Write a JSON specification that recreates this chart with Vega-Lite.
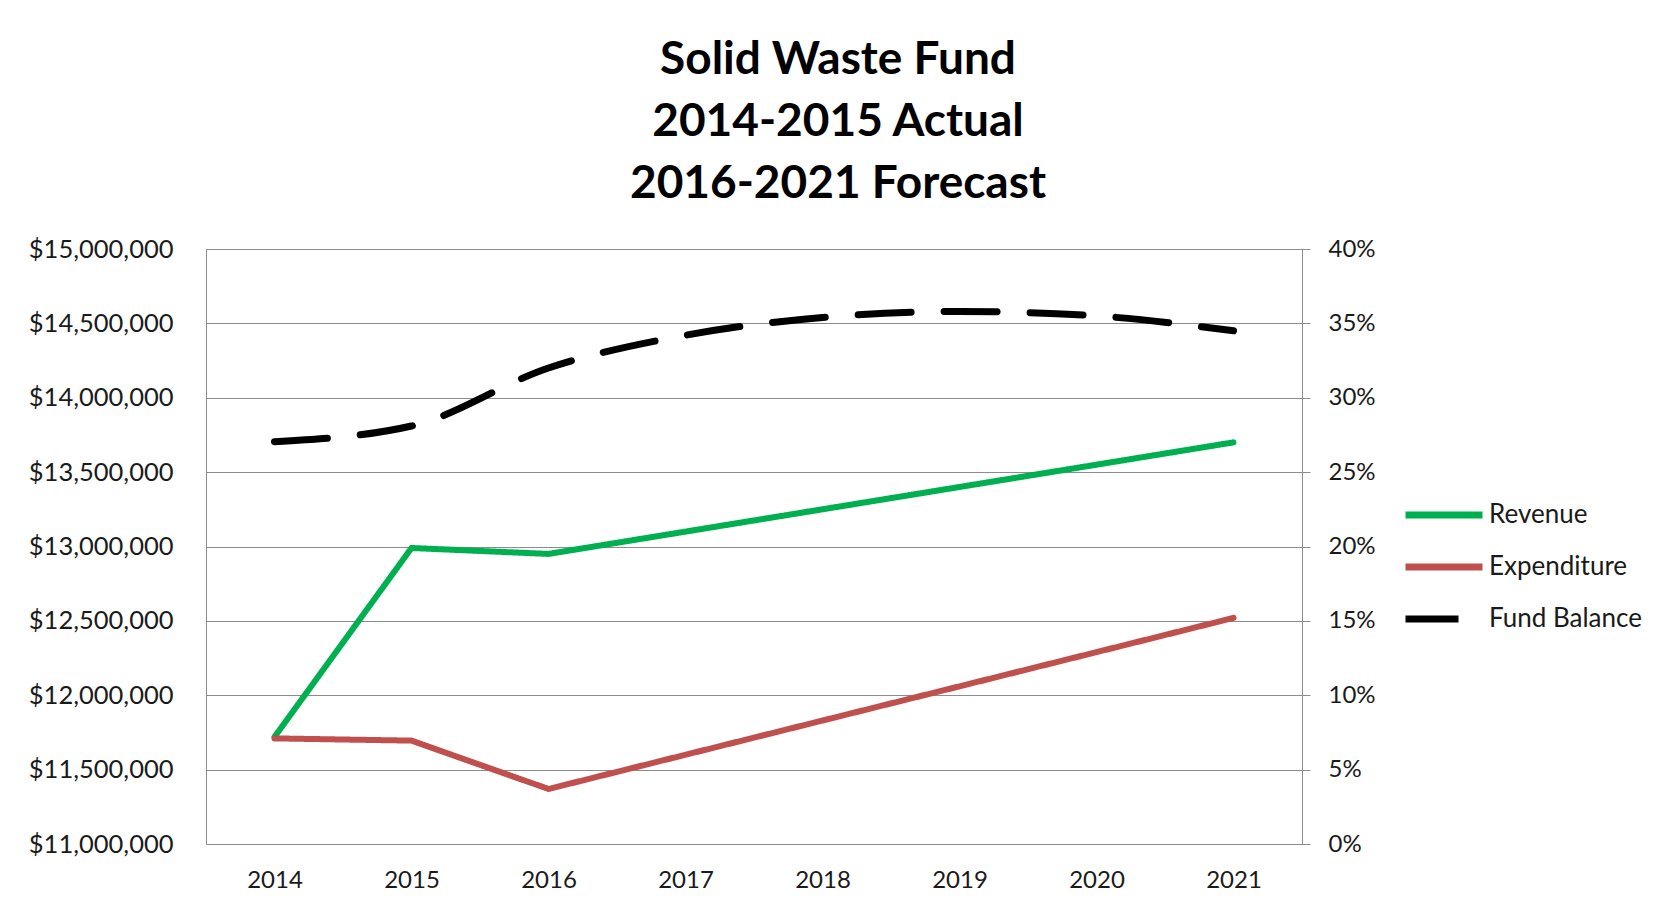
{
  "$schema": "https://vega.github.io/schema/vega-lite/v6.json",
  "width": 1096,
  "height": 595,
  "autosize": {"type": "none"},
  "padding": {"left": 206, "top": 249, "right": 369, "bottom": 67},
  "background": "white",
  "title": {
    "text": ["Solid Waste Fund", "2014-2015 Actual", "2016-2021 Forecast"],
    "font": "Lato",
    "fontSize": 46,
    "fontWeight": "bold",
    "color": "#000000",
    "anchor": "middle",
    "frame": "group",
    "dx": 84,
    "lineHeight": 62,
    "offset": 29
  },
  "config": {
    "view": {"stroke": "#8c8c8c", "strokeWidth": 1},
    "axis": {
      "labelFont": "Lato",
      "labelFontSize": 24,
      "labelColor": "#1a1a1a",
      "gridColor": "#8c8c8c",
      "gridWidth": 1,
      "domainColor": "#8c8c8c",
      "tickColor": "#8c8c8c",
      "title": null
    },
    "legend": {
      "labelFont": "Lato",
      "labelFontSize": 26,
      "labelColor": "#1a1a1a",
      "rowPadding": 0
    }
  },
  "data": {
    "values": [
      {"year": "2014", "series": "Revenue", "value": 11720000},
      {"year": "2015", "series": "Revenue", "value": 12990000},
      {"year": "2016", "series": "Revenue", "value": 12950000},
      {"year": "2017", "series": "Revenue", "value": 13100000},
      {"year": "2018", "series": "Revenue", "value": 13250000},
      {"year": "2019", "series": "Revenue", "value": 13400000},
      {"year": "2020", "series": "Revenue", "value": 13550000},
      {"year": "2021", "series": "Revenue", "value": 13700000},
      {"year": "2014", "series": "Expenditure", "value": 11710000},
      {"year": "2015", "series": "Expenditure", "value": 11695000},
      {"year": "2016", "series": "Expenditure", "value": 11370000},
      {"year": "2017", "series": "Expenditure", "value": 11600000},
      {"year": "2018", "series": "Expenditure", "value": 11830000},
      {"year": "2019", "series": "Expenditure", "value": 12060000},
      {"year": "2020", "series": "Expenditure", "value": 12290000},
      {"year": "2021", "series": "Expenditure", "value": 12520000},
      {"year": "2014", "series": "Fund Balance", "value": 0.2705},
      {"year": "2015", "series": "Fund Balance", "value": 0.281},
      {"year": "2016", "series": "Fund Balance", "value": 0.32},
      {"year": "2017", "series": "Fund Balance", "value": 0.342},
      {"year": "2018", "series": "Fund Balance", "value": 0.354},
      {"year": "2019", "series": "Fund Balance", "value": 0.358},
      {"year": "2020", "series": "Fund Balance", "value": 0.355},
      {"year": "2021", "series": "Fund Balance", "value": 0.345}
    ]
  },
  "encoding": {
    "x": {
      "field": "year",
      "type": "ordinal",
      "scale": {"type": "point", "padding": 0.5},
      "axis": {
        "labelAngle": 0,
        "ticks": false,
        "tickSize": 0,
        "labelPadding": 24,
        "domain": false,
        "grid": false
      }
    },
    "color": {
      "field": "series",
      "type": "nominal",
      "scale": {
        "domain": ["Revenue", "Expenditure", "Fund Balance"],
        "range": ["#00B050", "#C0504D", "#000000"]
      },
      "legend": {
        "title": null,
        "orient": "none",
        "legendX": 1196,
        "legendY": 240,
        "symbolType": "stroke",
        "symbolSize": 5929,
        "symbolStrokeWidth": 7,
        "clipHeight": 52,
        "rowPadding": 0,
        "labelOffset": 3,
        "padding": 0
      }
    },
    "strokeDash": {
      "field": "series",
      "type": "nominal",
      "scale": {
        "domain": ["Revenue", "Expenditure", "Fund Balance"],
        "range": [[1, 0], [1, 0], [53, 33]]
      },
      "legend": {
        "title": null,
        "orient": "none",
        "legendX": 1196,
        "legendY": 240,
        "symbolType": "stroke",
        "symbolSize": 5929,
        "symbolStrokeWidth": 7,
        "clipHeight": 52,
        "rowPadding": 0,
        "labelOffset": 3,
        "padding": 0
      }
    }
  },
  "layer": [
    {
      "transform": [{"filter": "datum.series !== 'Fund Balance'"}],
      "mark": {"type": "line", "strokeWidth": 6, "strokeCap": "round", "strokeJoin": "round"},
      "encoding": {
        "y": {
          "field": "value",
          "type": "quantitative",
          "scale": {"domain": [11000000, 15000000], "nice": false, "zero": false},
          "axis": {
            "orient": "left",
            "format": "$,.0f",
            "values": [11000000, 11500000, 12000000, 12500000, 13000000, 13500000, 14000000, 14500000, 15000000],
            "labelFontSize": 25.5,
            "grid": true,
            "ticks": false,
            "tickSize": 0,
            "labelPadding": 33,
            "domain": false
          }
        }
      }
    },
    {
      "transform": [{"filter": "datum.series === 'Fund Balance'"}],
      "mark": {"type": "line", "strokeWidth": 7, "strokeCap": "round", "interpolate": "monotone"},
      "encoding": {
        "y": {
          "field": "value",
          "type": "quantitative",
          "scale": {"domain": [0, 0.4], "nice": false},
          "axis": {
            "orient": "right",
            "format": ".0%",
            "values": [0, 0.05, 0.1, 0.15, 0.2, 0.25, 0.3, 0.35, 0.4],
            "grid": false,
            "ticks": true,
            "tickSize": 8,
            "labelPadding": 18,
            "domain": true
          }
        }
      }
    }
  ],
  "resolve": {"scale": {"y": "independent"}}
}
